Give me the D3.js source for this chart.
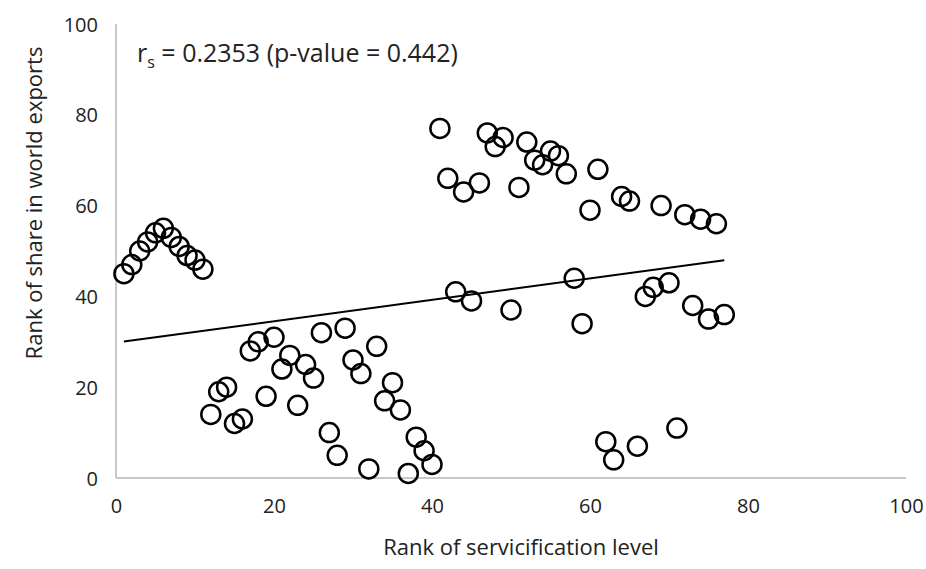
<!DOCTYPE html>
<html>
<head>
<meta charset="utf-8">
<script src="https://cdn.jsdelivr.net/npm/d3@7"></script>
<style>
  html, body { margin: 0; padding: 0; background: #fff; }
  svg { display: block; }
  text { font-family: "Open Sans", "Noto Sans", sans-serif; fill: #222; }
</style>
</head>
<body>
<svg id="chart" width="926" height="569"></svg>
<script>
// Rank of servicification level (x) and rank of share in world exports (y)
const servRank = [1,2,3,4,5,6,7,8,9,10,11,12,13,14,15,16,17,18,19,20,21,22,23,24,25,26,27,28,29,30,31,32,33,34,35,36,37,38,39,40,41,42,43,44,45,46,47,48,49,50,51,52,53,54,55,56,57,58,59,60,61,62,63,64,65,66,67,68,69,70,71,72,73,74,75,76,77];
const exportRank = [45,47,50,52,54,55,53,51,49,48,46,14,19,20,12,13,28,30,18,31,24,27,16,25,22,32,10,5,33,26,23,2,29,17,21,15,1,9,6,3,77,66,41,63,39,65,76,73,75,37,64,74,70,69,72,71,67,44,34,59,68,8,4,62,61,7,40,42,60,43,11,58,38,57,35,56,36];
const xTicks = [0,20,40,60,80,100];
const yTicks = [0,20,40,60,80,100];
const annotation = ["r", "s", " = 0.2353 (p-value = 0.442)"];
const xTitle = "Rank of servicification level";
const yTitle = "Rank of share in world exports";

const FONT = '"Open Sans", "Noto Sans", sans-serif';
const svg = d3.select("#chart");
const x = d3.scaleLinear().domain([0, 100]).range([116, 906]);
const y = d3.scaleLinear().domain([0, 100]).range([478, 24]);

// axis lines
svg.append("line").attr("x1", x(0)).attr("x2", x(100)).attr("y1", y(0)).attr("y2", y(0))
  .attr("stroke", "#c8c8c8").attr("stroke-width", 2);
svg.append("line").attr("x1", x(0)).attr("x2", x(0)).attr("y1", y(0)).attr("y2", y(100))
  .attr("stroke", "#c8c8c8").attr("stroke-width", 2);

// ticks
const xAxis = d3.axisBottom(x).tickValues(xTicks).tickSize(0).tickPadding(0);
const gx = svg.append("g").attr("transform", `translate(0,${y(0)})`).call(xAxis);
gx.select(".domain").remove();
gx.selectAll("text").attr("font-size", 20).attr("dy", "1.75em").attr("fill", "#222")
  .style("font-family", FONT);

const yAxis = d3.axisLeft(y).tickValues(yTicks).tickSize(0).tickPadding(0);
const gy = svg.append("g").attr("transform", `translate(${x(0) - 18},0)`).call(yAxis);
gy.select(".domain").remove();
gy.selectAll("text").attr("font-size", 20).attr("dy", "0.35em").attr("fill", "#222")
  .style("font-family", FONT);

// trend line (least squares on data)
const n = servRank.length;
const mx = d3.mean(servRank), my = d3.mean(exportRank);
let sxy = 0, sxx = 0;
for (let i = 0; i < n; i++) { sxy += (servRank[i]-mx)*(exportRank[i]-my); sxx += (servRank[i]-mx)**2; }
const slope = sxy / sxx, intercept = my - slope * mx;
const x0 = d3.min(servRank), x1 = d3.max(servRank);
svg.append("line")
  .attr("x1", x(x0)).attr("y1", y(intercept + slope * x0))
  .attr("x2", x(x1)).attr("y2", y(intercept + slope * x1))
  .attr("stroke", "#000").attr("stroke-width", 2);

// points
svg.append("g").selectAll("circle").data(servRank.map((d, i) => [d, exportRank[i]]))
  .join("circle")
  .attr("cx", d => x(d[0])).attr("cy", d => y(d[1])).attr("r", 9.5)
  .attr("fill", "none").attr("stroke", "#000").attr("stroke-width", 2.5);

// annotation
const ann = svg.append("text").attr("x", 137).attr("y", 62).attr("font-size", 25);
ann.append("tspan").text(annotation[0]);
ann.append("tspan").attr("font-size", 16).attr("dy", 6).text(annotation[1]);
ann.append("tspan").attr("dy", -6).text(annotation[2]);

// axis titles
svg.append("text").attr("x", 521).attr("y", 555).attr("text-anchor", "middle")
  .attr("font-size", 22).text(xTitle);
svg.append("text").attr("transform", `translate(42,${203}) rotate(-90)`).attr("text-anchor", "middle")
  .attr("font-size", 22).text(yTitle);
</script>
</body>
</html>
